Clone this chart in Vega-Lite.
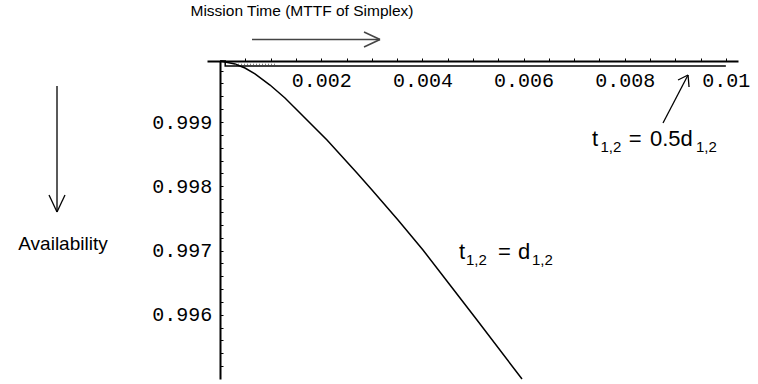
{
  "$schema": "https://vega.github.io/schema/vega-lite/v6.json",
  "width": 531,
  "height": 318,
  "autosize": {"type": "none"},
  "padding": {"left": 207, "top": 61, "right": 20, "bottom": 5},
  "background": "white",
  "config": {"view": {"stroke": null}},
  "layer": [
    {
      "data": {"values": [
        {"series": "t = d", "i": 0, "x": 0, "y": 0.99995},
        {"series": "t = d", "i": 1, "x": 0.000294, "y": 0.999903},
        {"series": "t = d", "i": 2, "x": 0.000491, "y": 0.999841},
        {"series": "t = d", "i": 3, "x": 0.000689, "y": 0.999748},
        {"series": "t = d", "i": 4, "x": 0.000986, "y": 0.999576},
        {"series": "t = d", "i": 5, "x": 0.001282, "y": 0.999374},
        {"series": "t = d", "i": 6, "x": 0.001638, "y": 0.999094},
        {"series": "t = d", "i": 7, "x": 0.002113, "y": 0.998721},
        {"series": "t = d", "i": 8, "x": 0.002706, "y": 0.998207},
        {"series": "t = d", "i": 9, "x": 0.003003, "y": 0.997943},
        {"series": "t = d", "i": 10, "x": 0.003517, "y": 0.997475},
        {"series": "t = d", "i": 11, "x": 0.004011, "y": 0.997008},
        {"series": "t = d", "i": 12, "x": 0.004545, "y": 0.996463},
        {"series": "t = d", "i": 13, "x": 0.005079, "y": 0.995918},
        {"series": "t = d", "i": 14, "x": 0.005969, "y": 0.995},
        {"series": "t = 0.5d", "i": 0, "x": 0, "y": 0.99995},
        {"series": "t = 0.5d", "i": 1, "x": 0.0001, "y": 0.99995},
        {"series": "t = 0.5d", "i": 2, "x": 0.0001, "y": 0.999872},
        {"series": "t = 0.5d", "i": 3, "x": 0.01, "y": 0.999872}
      ]},
      "mark": {"type": "line", "color": "black", "strokeWidth": 1.5, "clip": false},
      "encoding": {
        "x": {
          "field": "x", "type": "quantitative",
          "scale": {"domain": [-0.00026, 0.01024], "nice": false, "zero": false},
          "axis": {
            "title": null, "orient": "top", "grid": false, "tickCount": 1000,
            "values": [0.0005, 0.001, 0.0015, 0.002, 0.0025, 0.003, 0.0035, 0.004, 0.0045, 0.005, 0.0055, 0.006, 0.0065, 0.007, 0.0075, 0.008, 0.0085, 0.009, 0.0095, 0.01],
            "labelExpr": "abs(datum.value*500 - round(datum.value*500)) < 0.01 ? format(datum.value, '.3~f') : ''",
            "labelFont": "Liberation Mono", "labelFontSize": 20, "labelColor": "black",
            "labelBaseline": "alphabetic", "labelAlign": "center", "labelPadding": -28,
            "labelOverlap": false, "labelFlush": false, "labelBound": false,
            "tickSize": 3, "tickColor": "black", "tickWidth": 1,
            "domainColor": "black", "domainWidth": 1.8
          }
        },
        "y": {
          "field": "y", "type": "quantitative",
          "scale": {"domain": [0.995, 0.99995], "nice": false, "zero": false},
          "axis": {
            "title": null, "orient": "left", "grid": false, "offset": -13, "tickCount": 1000,
            "values": [0.9952, 0.9954, 0.9956, 0.9958, 0.996, 0.9962, 0.9964, 0.9966, 0.9968, 0.997, 0.9972, 0.9974, 0.9976, 0.9978, 0.998, 0.9982, 0.9984, 0.9986, 0.9988, 0.999, 0.9992, 0.9994, 0.9996, 0.9998],
            "labelExpr": "abs(datum.value*1000 - round(datum.value*1000)) < 0.01 ? format(datum.value, '.3f') : ''",
            "labelFont": "Liberation Mono", "labelFontSize": 20, "labelColor": "black",
            "labelAlign": "right", "labelBaseline": "middle", "labelPadding": 11.3,
            "labelOverlap": false, "labelFlush": false, "labelBound": false,
            "tickSize": -3, "tickColor": "black", "tickWidth": 1,
            "domainColor": "black", "domainWidth": 2
          }
        },
        "detail": {"field": "series"},
        "order": {"field": "i"}
      }
    },
    {
      "data": {"values": [
        {"x": 0.000294, "y": 0.999899, "x2": 0.001125, "y2": 0.999899}
      ]},
      "mark": {"type": "rule", "color": "#555555", "strokeWidth": 1, "strokeDash": [1, 2], "clip": false},
      "encoding": {
        "x": {"field": "x", "type": "quantitative", "scale": {"domain": [-0.00026, 0.01024], "nice": false, "zero": false}},
        "y": {"field": "y", "type": "quantitative", "scale": {"domain": [0.995, 0.99995], "nice": false, "zero": false}},
        "x2": {"field": "x2"},
        "y2": {"field": "y2"}
      }
    },
    {
      "data": {"values": [
        {"x": 0.00063, "y": 1.000285, "x2": 0.003161, "y2": 1.000285},
        {"x": 0.002845, "y": 1.000401, "x2": 0.003161, "y2": 1.000285},
        {"x": 0.002845, "y": 1.000168, "x2": 0.003161, "y2": 1.000285}
      ]},
      "mark": {"type": "rule", "color": "#444444", "strokeWidth": 1.6, "clip": false},
      "encoding": {
        "x": {"field": "x", "type": "quantitative", "scale": {"domain": [-0.00026, 0.01024], "nice": false, "zero": false}},
        "y": {"field": "y", "type": "quantitative", "scale": {"domain": [0.995, 0.99995], "nice": false, "zero": false}},
        "x2": {"field": "x2"},
        "y2": {"field": "y2"}
      }
    },
    {
      "data": {"values": [
        {"x": -0.003226, "y": 0.999561, "x2": -0.003226, "y2": 0.9976},
        {"x": -0.003384, "y": 0.997864, "x2": -0.003226, "y2": 0.9976},
        {"x": -0.003068, "y": 0.997864, "x2": -0.003226, "y2": 0.9976},
        {"x": 0.008757, "y": 0.998985, "x2": 0.009252, "y2": 0.999732},
        {"x": 0.009054, "y": 0.999654, "x2": 0.009252, "y2": 0.999732},
        {"x": 0.009272, "y": 0.999545, "x2": 0.009252, "y2": 0.999732}
      ]},
      "mark": {"type": "rule", "color": "black", "strokeWidth": 1.3, "clip": false},
      "encoding": {
        "x": {"field": "x", "type": "quantitative", "scale": {"domain": [-0.00026, 0.01024], "nice": false, "zero": false}},
        "y": {"field": "y", "type": "quantitative", "scale": {"domain": [0.995, 0.99995], "nice": false, "zero": false}},
        "x2": {"field": "x2"},
        "y2": {"field": "y2"}
      }
    },
    {
      "data": {"values": [
        {"x": 0.0016185, "y": 1.000658, "label": "Mission Time (MTTF of Simplex)"}
      ]},
      "mark": {"type": "text", "font": "Liberation Sans", "fontSize": 15.5, "align": "center", "baseline": "alphabetic", "color": "black", "clip": false},
      "encoding": {
        "x": {"field": "x", "type": "quantitative", "scale": {"domain": [-0.00026, 0.01024], "nice": false, "zero": false}},
        "y": {"field": "y", "type": "quantitative", "scale": {"domain": [0.995, 0.99995], "nice": false, "zero": false}},
        "text": {"field": "label"}
      }
    },
    {
      "data": {"values": [
        {"x": -0.003108, "y": 0.997008, "label": "Availability"}
      ]},
      "mark": {"type": "text", "font": "Liberation Sans", "fontSize": 19, "align": "center", "baseline": "alphabetic", "color": "black", "clip": false},
      "encoding": {
        "x": {"field": "x", "type": "quantitative", "scale": {"domain": [-0.00026, 0.01024], "nice": false, "zero": false}},
        "y": {"field": "y", "type": "quantitative", "scale": {"domain": [0.995, 0.99995], "nice": false, "zero": false}},
        "text": {"field": "label"}
      }
    },
    {
      "data": {"values": [
        {"x": 0.007353, "y": 0.998627, "label": "t"},
        {"x": 0.008082, "y": 0.998627, "label": "="},
        {"x": 0.0085, "y": 0.998627, "label": "0.5d"},
        {"x": 0.004723, "y": 0.996868, "label": "t"},
        {"x": 0.005494, "y": 0.996868, "label": "="},
        {"x": 0.00589, "y": 0.996868, "label": "d"}
      ]},
      "mark": {"type": "text", "font": "Liberation Sans", "fontSize": 22, "align": "left", "baseline": "alphabetic", "color": "black", "clip": false},
      "encoding": {
        "x": {"field": "x", "type": "quantitative", "scale": {"domain": [-0.00026, 0.01024], "nice": false, "zero": false}},
        "y": {"field": "y", "type": "quantitative", "scale": {"domain": [0.995, 0.99995], "nice": false, "zero": false}},
        "text": {"field": "label"}
      }
    },
    {
      "data": {"values": [
        {"x": 0.00752, "y": 0.998541, "label": "1,2"},
        {"x": 0.00941, "y": 0.998541, "label": "1,2"},
        {"x": 0.004861, "y": 0.996782, "label": "1,2"},
        {"x": 0.006167, "y": 0.996782, "label": "1,2"}
      ]},
      "mark": {"type": "text", "font": "Liberation Sans", "fontSize": 15, "align": "left", "baseline": "alphabetic", "color": "black", "clip": false},
      "encoding": {
        "x": {"field": "x", "type": "quantitative", "scale": {"domain": [-0.00026, 0.01024], "nice": false, "zero": false}},
        "y": {"field": "y", "type": "quantitative", "scale": {"domain": [0.995, 0.99995], "nice": false, "zero": false}},
        "text": {"field": "label"}
      }
    }
  ]
}
